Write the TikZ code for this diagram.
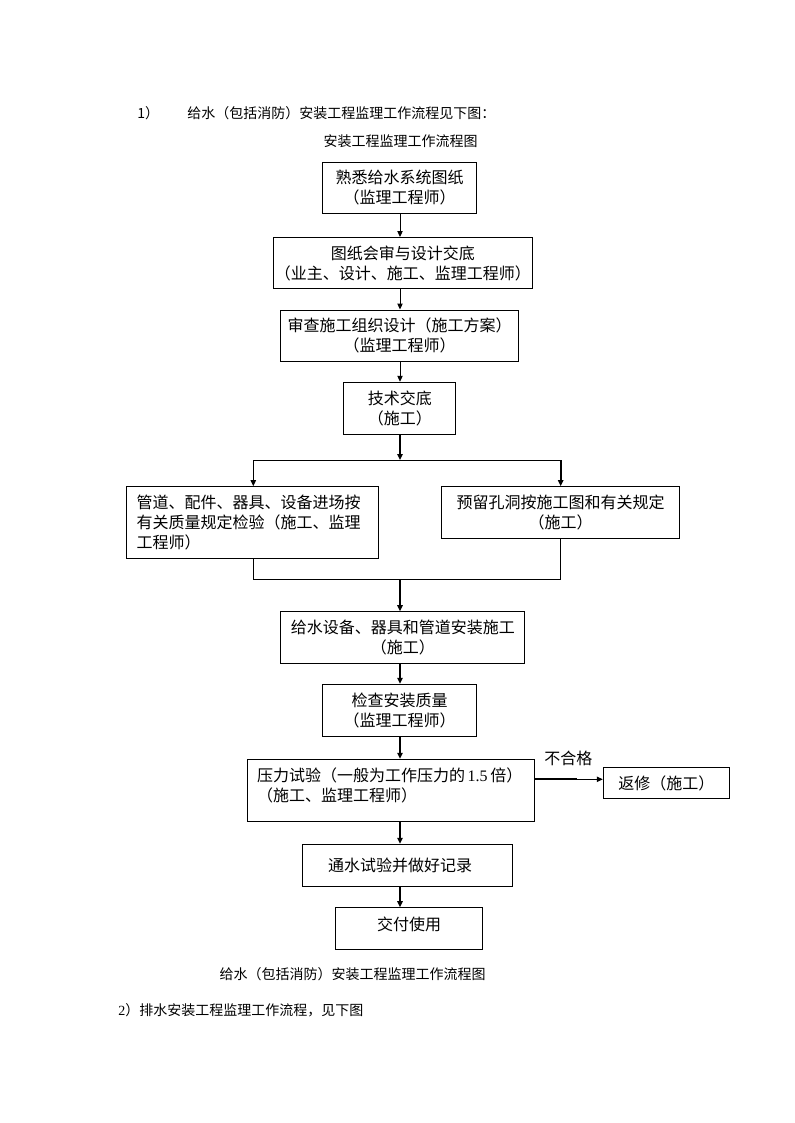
\documentclass[tikz,border=0pt]{standalone}
\usepackage{fontspec}
\setmainfont{Noto Sans CJK SC}
\newfontfamily\tnr{Liberation Serif}
\usetikzlibrary{arrows.meta}
\begin{document}
\begin{tikzpicture}[x=0.75pt,y=-0.75pt,
  box/.style={draw, line width=0.75pt, inner sep=0pt, font=\fontsize{12pt}{15pt}\selectfont},
  slim/.style={line width=0.75pt},
  fat/.style={line width=1.5pt},
  arr/.style={-{Triangle[length=4.5pt,width=4pt]}},
  hdr/.style={inner sep=0pt, font=\fontsize{10.5pt}{13pt}\selectfont},
  lbl/.style={inner sep=0pt, font=\fontsize{12pt}{15pt}\selectfont}]
\useasboundingbox[fill=white] (0,0) rectangle (794,1123);

% headers
\node[hdr, anchor=west] (h0) at (137,113) {1）};
\node[hdr, anchor=west] (h1) at (187,113) {给水（包括消防）安装工程监理工作流程见下图：};
\node[hdr] (h2) at (400.5,141) {安装工程监理工作流程图};

% boxes
\node[box, minimum width=115.5pt, minimum height=38.25pt, align=center] (b1) at (399.5,188)
  {熟悉给水系统图纸\\（监理工程师）};
\node[box, minimum width=193.9pt, minimum height=38.6pt, align=center] (b2) at (402.75,263.25)
  {图纸会审与设计交底\\（业主、设计、施工、监理工程师）};
\node[box, minimum width=178.2pt, minimum height=38.6pt, align=center] (b3) at (399.5,335.75)
  {审查施工组织设计（施工方案）\\（监理工程师）};
\node[box, minimum width=83.8pt, minimum height=38.8pt, align=center] (b4) at (399.85,408.15)
  {技术交底\\（施工）};
\node[box, minimum height=54.2pt, inner xsep=8pt, text width=173.2pt, align=left] (b5) at (252.15,522.85)
  {管道、配件、器具、设备进场按\\有关质量规定检验（施工、监理\\工程师）};
\node[box, minimum width=178.2pt, minimum height=38.7pt, align=center] (b6) at (560.5,512.5)
  {预留孔洞按施工图和有关规定\\（施工）};
\node[box, minimum width=183.2pt, minimum height=38.7pt, align=center] (b7) at (402.85,637.5)
  {给水设备、器具和管道安装施工\\（施工）};
\node[box, minimum width=115.5pt, minimum height=39.15pt, align=center] (b8) at (399.7,710.4)
  {检查安装质量\\（监理工程师）};
\node[box, minimum height=46.8pt, inner xsep=7.3pt, text width=200.65pt, align=left] (b9) at (390.8,790.5)
  {压力试验（一般为工作压力的\hspace{2pt}{\tnr 1.5}\hspace{2pt}倍）\\（施工、监理工程师）\rule[-8.4pt]{0pt}{0pt}};
\node[box, minimum width=94.5pt, minimum height=22.95pt] (b10) at (666.3,783)
  {返修（施工）};
\node[box, minimum width=157.8pt, minimum height=31.3pt] (b11) at (407.5,865.15)
  {通水试验并做好记录\kern11.2pt};
\node[box, minimum width=110pt, minimum height=31pt] (b12) at (409,928.35)
  {交付使用\rule[-6.8pt]{0pt}{0pt}};

% connectors
\coordinate (cx) at (400,0);
\draw[slim,arr] (b1.south -| cx) -- (b2.north -| cx);
\draw[slim,arr] (b2.south -| cx) -- (b3.north -| cx);
\draw[slim,arr] (b3.south -| cx) -- (b4.north -| cx);
\coordinate (sp) at (400,460);
\coordinate (sl) at (253.3,460);
\coordinate (sr) at (560.7,460);
\draw[fat,arr] (b4.south -| cx) -- (sp);
\draw[slim] (sl) -- (sr);
\draw[slim,arr] (sl) -- (b5.north -| sl);
\draw[fat,arr] (sr) -- (b6.north -| sr);
\coordinate (ml) at (253.3,579);
\coordinate (mr) at (560.7,579);
\coordinate (mc) at (400,579);
\draw[slim] (b5.south -| ml) -- (ml) -- (mr) -- (b6.south -| mr);
\draw[fat,arr] (mc) -- (b7.north -| cx);
\draw[fat,arr] (b7.south -| cx) -- (b8.north -| cx);
\draw[fat,arr] (b8.south -| cx) -- (b9.north -| cx);
\draw[fat,arr] (b9.south -| cx) -- (b11.north -| cx);
\draw[fat,arr] (b11.south -| cx) -- (b12.north -| cx);
\coordinate (ry) at (0,779.3);
\coordinate (rk) at (576.7,779.3);
\draw[fat] (b9.east |- ry) -- (rk);
\draw[slim,arr] (rk) -- (b10.west |- ry);
\node[lbl] (nf) at (568.3,758.5) {不合格};

% footer
\node[hdr] (cap) at (352.5,974) {给水（包括消防）安装工程监理工作流程图};
\node[hdr, anchor=west] (h3) at (118,1010) {{\tnr 2}）排水安装工程监理工作流程，见下图};
\end{tikzpicture}
\end{document}
